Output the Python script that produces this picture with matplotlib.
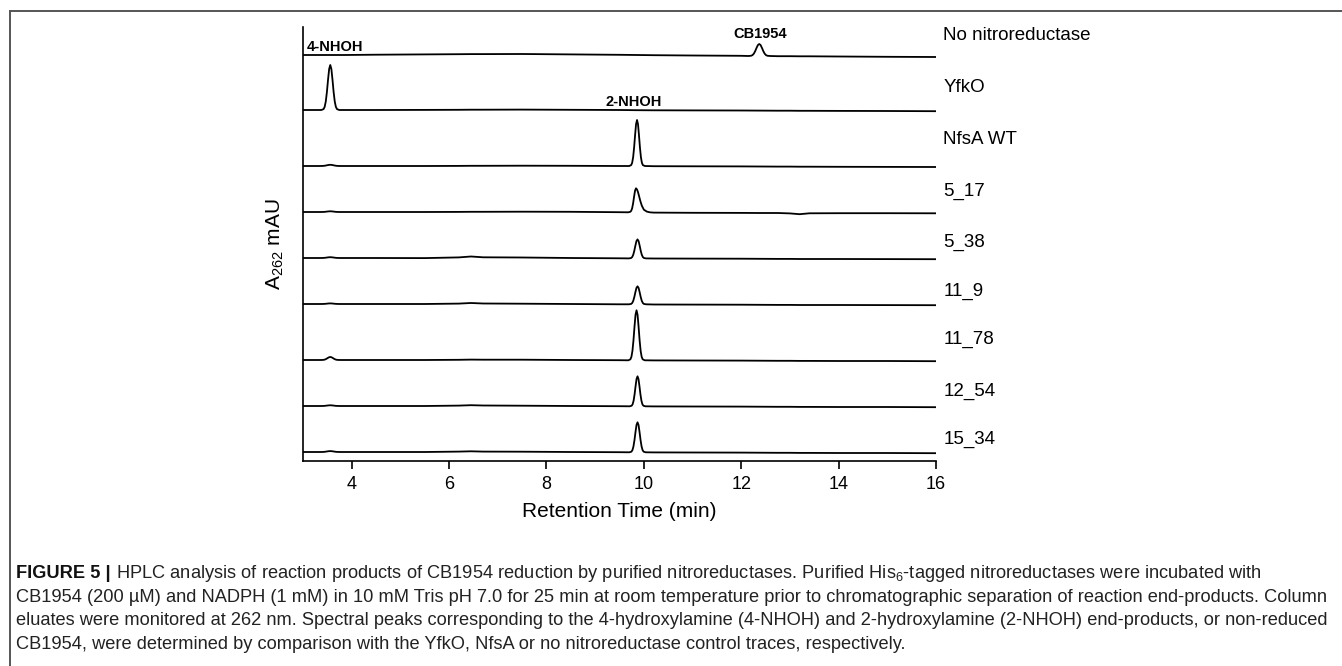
import numpy as np
import matplotlib.pyplot as plt
from matplotlib.lines import Line2D

plt.rcParams['font.family'] = ['Liberation Sans', 'DejaVu Sans']
plt.rcParams['mathtext.fontset'] = 'custom'
plt.rcParams['mathtext.rm'] = 'Liberation Sans'
plt.rcParams['mathtext.it'] = 'Liberation Sans:italic'

# HPLC traces, top to bottom
samples = ["No nitroreductase", "YfkO", "NfsA WT", "5_17", "5_38",
           "11_9", "11_78", "12_54", "15_34"]
# vertical offset of each trace (A262, arbitrary units)
offsets = [406, 351, 295, 249, 203, 157, 101, 55, 9]

# baseline drift
base_t = [3.0, 3.3, 3.56, 3.85, 4.5, 5.5, 6.2, 6.45, 6.7, 7.5, 8.5, 9.5, 9.86,
          10.2, 11.0, 12.0, 12.37, 12.75, 13.0, 13.2, 13.4, 14.0, 15.0, 16.0]
base_y = [
    [0, 0, 0, 0, 0.3, 0.6, 0.8, 0.9, 0.9, 1.0, 0.6, 0.2, 0, -0.2, -0.5, -0.8, -1.0, -1.2, -1.2, -1.3, -1.3, -1.5, -1.8, -2.0],
    [0, 0, 0, 0, 0, 0.1, 0.2, 0.3, 0.3, 0.4, 0.2, 0, -0.2, -0.3, -0.4, -0.5, -0.6, -0.7, -0.7, -0.8, -0.8, -0.9, -1.0, -1.2],
    [0, 0, 0, 0, 0, 0, 0.1, 0.2, 0.2, 0.3, 0.2, 0, 0, -0.2, -0.3, -0.4, -0.5, -0.6, -0.6, -0.7, -0.7, -0.8, -0.9, -1.0],
    [0, 0, 0, 0, 0, 0, 0.1, 0.2, 0.2, 0.3, 0.2, -0.2, -0.3, -0.6, -0.8, -0.9, -1.0, -1.0, -1.4, -2.2, -1.3, -1.2, -1.2, -1.3],
    [0, 0, 0, 0, 0, -0.1, 0.6, 1.5, 0.7, 0.5, 0, -0.3, -0.4, -0.5, -0.6, -0.7, -0.8, -0.9, -0.9, -1.0, -1.0, -1.0, -1.1, -1.2],
    [0, 0, 0, 0, 0, 0, 0.4, 1.0, 0.5, 0.3, 0, -0.3, -0.3, -0.5, -0.6, -0.7, -0.8, -0.9, -0.9, -1.0, -1.0, -1.0, -1.1, -1.2],
    [0, 0, 0, 0, 0, 0, 0.2, 0.4, 0.3, 0.3, 0, -0.2, -0.3, -0.4, -0.5, -0.6, -0.7, -0.8, -0.8, -0.9, -0.9, -1.0, -1.0, -1.2],
    [0, 0, 0, 0, 0, 0, 0.4, 0.8, 0.5, 0.3, 0, -0.2, -0.3, -0.4, -0.5, -0.6, -0.7, -0.8, -0.8, -0.9, -0.9, -1.0, -1.0, -1.2],
    [0, 0, 0, 0, 0, 0, 0.4, 0.7, 0.4, 0.3, 0, -0.2, -0.3, -0.4, -0.5, -0.6, -0.7, -0.8, -0.8, -0.9, -0.9, -1.0, -1.0, -1.2],
]

# peaks: trace index, retention time (min), height, width factor, shape
peak_trace = [0, 1, 2, 2, 3, 3, 4, 4, 5, 5, 6, 6, 7, 7, 8, 8]
peak_time = [12.37, 3.56, 3.56, 9.86, 3.56, 9.84, 3.56, 9.87, 3.56, 9.87,
             3.56, 9.85, 3.56, 9.87, 3.56, 9.87]
peak_height = [12, 45, 1.2, 46, 0.7, 24, 0.8, 19, 0.6, 18,
               3.0, 50, 0.7, 30, 0.9, 30]
peak_width = [1.4, 1.15, 1.5, 1.0, 1.5, 1.0, 1.5, 1.1, 1.5, 1.1,
              1.3, 1.05, 1.5, 1.0, 1.5, 1.05]
peak_shape = ["sharp", "sharp", "sharp", "sharp", "sharp", "tail", "sharp", "sharp",
              "sharp", "sharp", "sharp", "sharp", "sharp", "sharp", "sharp", "sharp"]

# normalised peak profiles
sharp_dt = [-0.16, -0.12, -0.10, -0.08, -0.06, -0.04, -0.02, 0, 0.02, 0.04, 0.06, 0.08, 0.10, 0.12, 0.16]
sharp_y = [0, 0.02, 0.07, 0.19, 0.40, 0.67, 0.91, 1, 0.91, 0.67, 0.40, 0.19, 0.07, 0.02, 0]
tail_dt = [-0.16, -0.12, -0.10, -0.08, -0.06, -0.04, -0.02, 0, 0.02, 0.04, 0.06, 0.08, 0.10, 0.12, 0.16, 0.22, 0.28]
tail_y = [0, 0.02, 0.06, 0.17, 0.38, 0.66, 0.91, 1, 0.95, 0.84, 0.69, 0.53, 0.39, 0.27, 0.11, 0.03, 0]

xticks = [4, 6, 8, 10, 12, 14, 16]

# label placement (data units)
label_y = [425, 373, 322, 270, 219, 170, 122, 70, 22]
peak_names = ["4-NHOH", "2-NHOH", "CB1954"]
peak_name_xy = [(3.08, 414), (9.79, 359), (12.38, 427)]

caption_lines = [
    " HPLC analysis of reaction products of CB1954 reduction by purified nitroreductases. "
    "Purified His$_6$-tagged nitroreductases were incubated with",
    "CB1954 (200 \u00b5M) and NADPH (1 mM) in 10 mM Tris pH 7.0 for 25 min at room temperature "
    "prior to chromatographic separation of reaction end-products. Column",
    "eluates were monitored at 262 nm. Spectral peaks corresponding to the 4-hydroxylamine (4-NHOH) "
    "and 2-hydroxylamine (2-NHOH) end-products, or non-reduced",
    "CB1954, were determined by comparison with the YfkO, NfsA or no nitroreductase control traces, respectively.",
]


def build_trace(i):
    bt = np.array(base_t)
    by = np.array(base_y[i], dtype=float)
    keep = np.ones(len(bt), bool)
    px, py = [], []
    for k in range(len(peak_trace)):
        if peak_trace[k] != i:
            continue
        t0, h, w = peak_time[k], peak_height[k], peak_width[k]
        dt, prof = (sharp_dt, sharp_y) if peak_shape[k] == "sharp" else (tail_dt, tail_y)
        dt = np.array(dt) * w
        lo, hi = t0 + dt[0], t0 + dt[-1]
        keep &= ~((bt > lo) & (bt < hi))
        b0 = by[np.argmin(np.abs(bt - t0))]
        px.extend(t0 + dt)
        py.extend(b0 + h * np.array(prof))
    t = np.concatenate([bt[keep], px])
    y = np.concatenate([by[keep], py])
    order = np.argsort(t)
    return t[order], y[order] + offsets[i]


fig = plt.figure(figsize=(13.42, 6.66), dpi=100)
W, H = 1342, 666
ax = fig.add_axes([303 / W, 1 - 461 / H, (936 - 303) / W, (461 - 27) / H])

for i, name in enumerate(samples):
    t, y = build_trace(i)
    ax.plot(t, y, color='black', lw=1.3, solid_joinstyle='round')
    ax.text(16.15, label_y[i], name, fontsize=13.5, va='center', ha='left', clip_on=False)

ax.text(*peak_name_xy[0], peak_names[0], fontsize=10.5, fontweight='bold', ha='left', va='center')
ax.text(*peak_name_xy[1], peak_names[1], fontsize=10.5, fontweight='bold', ha='center', va='center')
ax.text(*peak_name_xy[2], peak_names[2], fontsize=10.5, fontweight='bold', ha='center', va='center')

ax.set_xlim(3.0, 16)
ax.set_ylim(0, 434)
ax.set_xticks(xticks)
ax.set_yticks([])
ax.spines['top'].set_visible(False)
ax.spines['right'].set_visible(False)
ax.spines['left'].set_linewidth(1.2)
ax.spines['bottom'].set_linewidth(1.2)
ax.tick_params(axis='x', direction='out', length=6, width=1.2, labelsize=13, pad=5)
ax.set_xlabel('Retention Time (min)', fontsize=15, labelpad=6)
ax.set_ylabel('A$_{262}$ mAU', fontsize=15, labelpad=12)

# frame of the figure panel
fig.add_artist(Line2D([9.5 / W, 1], [1 - 10.5 / H] * 2, transform=fig.transFigure, color='#555555', lw=1.4))
fig.add_artist(Line2D([9.5 / W] * 2, [0, 1 - 10.5 / H], transform=fig.transFigure, color='#555555', lw=1.4))

# caption
cap_y = [578, 602, 625, 649]
cap_x = 16
fs = 11
texts = []
t_bold = fig.text(cap_x / W, 1 - cap_y[0] / H, "FIGURE 5 |", fontsize=fs, fontweight='bold',
                  va='baseline', ha='left', color='#111111')
for j, line in enumerate(caption_lines):
    texts.append(fig.text(cap_x / W, 1 - cap_y[j] / H, line, fontsize=fs,
                          va='baseline', ha='left', color='#222222'))

fig.canvas.draw()
r = fig.canvas.get_renderer()
target = 1322 - cap_x
scale = target / texts[1].get_window_extent(r).width
for tx in texts + [t_bold]:
    tx.set_fontsize(fs * scale)
fig.canvas.draw()
bw = t_bold.get_window_extent(r).width
texts[0].set_x((cap_x + bw) / W)

fig.savefig('out.png', dpi=100)
